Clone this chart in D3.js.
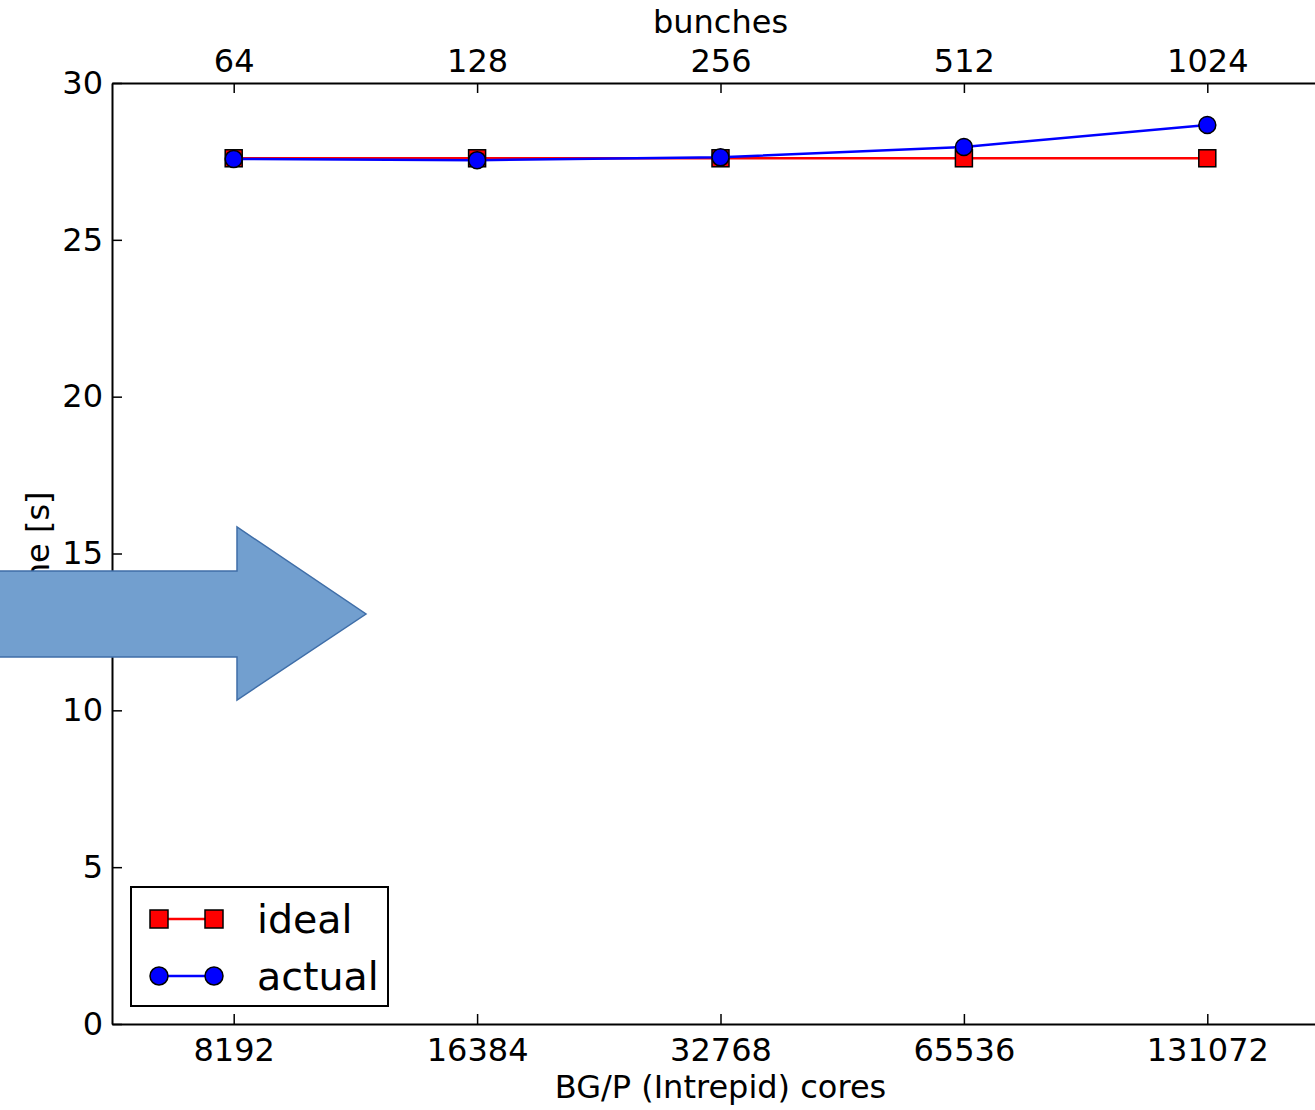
<!doctype html>
<html lang="en">
<head>
<meta charset="UTF-8">
<title>time vs cores</title>
<script src="https://d3js.org/d3.v7.min.js"></script>
<style>
  body { margin: 0; background: #fff; }
  svg { display: block; }
  text { font-family: "DejaVu Sans", sans-serif; fill: #000; }
</style>
</head>
<body>
<div id="chart"></div>
<script>
  // Data
  const cores = [8192, 16384, 32768, 65536, 131072]
  const bunches = [64, 128, 256, 512, 1024]
  const ideal = [27.6, 27.6, 27.6, 27.6, 27.6]
  const actual = [27.58, 27.54, 27.63, 27.96, 28.66]
  const yTicks = [0, 5, 10, 15, 20, 25, 30]

  const dimensions = {
    width: 1315,
    height: 1110,
    left: 112,
    top: 83,
    bottom: 1024,
    right: 1329
  }

  const svg = d3.select('#chart')
    .append('svg')
    .attr('width', dimensions.width)
    .attr('height', dimensions.height)

  // Scales (log2 spacing, half a step of padding on each side)
  const xScale = d3.scaleLog().base(2)
    .domain([Math.pow(2, 12.5), Math.pow(2, 17.5)])
    .range([dimensions.left, dimensions.right])

  const xTopScale = d3.scaleLog().base(2)
    .domain([Math.pow(2, 5.5), Math.pow(2, 10.5)])
    .range([dimensions.left, dimensions.right])

  const yScale = d3.scaleLinear()
    .domain([0, 30])
    .range([dimensions.bottom, dimensions.top])

  // Axes
  function styleAxis(g) {
    g.select('.domain').attr('stroke', '#000').attr('stroke-width', 2)
    g.selectAll('.tick line').attr('stroke', '#000').attr('stroke-width', 1.5)
    g.selectAll('.tick text')
      .style('font-size', '32px')
      .style('font-family', '"DejaVu Sans", sans-serif')
      .attr('fill', '#000')
  }

  const xAxis = d3.axisBottom(xScale)
    .tickValues(cores)
    .tickFormat(d => d)
    .tickSize(-10)
    .tickSizeOuter(0)
    .tickPadding(14)
  svg.append('g')
    .attr('transform', `translate(0, ${dimensions.bottom})`)
    .call(xAxis)
    .call(styleAxis)

  const xTopAxis = d3.axisTop(xTopScale)
    .tickValues(bunches)
    .tickFormat(d => d)
    .tickSize(-10)
    .tickSizeOuter(0)
    .tickPadding(11)
  svg.append('g')
    .attr('transform', `translate(0, ${dimensions.top})`)
    .call(xTopAxis)
    .call(styleAxis)

  const yAxis = d3.axisLeft(yScale)
    .tickValues(yTicks)
    .tickSize(-10)
    .tickSizeOuter(0)
    .tickPadding(9)
  svg.append('g')
    .attr('transform', `translate(${dimensions.left}, 0)`)
    .call(yAxis)
    .call(styleAxis)

  // Axis labels
  svg.append('text')
    .attr('x', (dimensions.left + dimensions.right) / 2)
    .attr('y', 1098)
    .attr('text-anchor', 'middle')
    .style('font-size', '32px')
    .text('BG/P (Intrepid) cores')

  svg.append('text')
    .attr('x', (dimensions.left + dimensions.right) / 2)
    .attr('y', 33)
    .attr('text-anchor', 'middle')
    .style('font-size', '32px')
    .text('bunches')

  svg.append('text')
    .attr('transform', `translate(49, ${(dimensions.top + dimensions.bottom) / 2}) rotate(-90)`)
    .attr('text-anchor', 'middle')
    .style('font-size', '32px')
    .text('time [s]')

  // Lines + markers
  const lineGenerator = (values) => d3.line()
    .x((d, i) => xScale(cores[i]))
    .y(d => yScale(d))(values)

  svg.append('path')
    .attr('d', lineGenerator(ideal))
    .attr('fill', 'none')
    .attr('stroke', '#ff0000')
    .attr('stroke-width', 2.5)

  svg.selectAll('.ideal')
    .data(ideal)
    .join('rect')
    .attr('class', 'ideal')
    .attr('x', (d, i) => xScale(cores[i]) - 8.5)
    .attr('y', d => yScale(d) - 8.5)
    .attr('width', 17)
    .attr('height', 17)
    .attr('fill', '#ff0000')
    .attr('stroke', '#000')
    .attr('stroke-width', 1.5)

  svg.append('path')
    .attr('d', lineGenerator(actual))
    .attr('fill', 'none')
    .attr('stroke', '#0000ff')
    .attr('stroke-width', 2.5)

  svg.selectAll('.actual')
    .data(actual)
    .join('circle')
    .attr('class', 'actual')
    .attr('cx', (d, i) => xScale(cores[i]))
    .attr('cy', d => yScale(d))
    .attr('r', 8.5)
    .attr('fill', '#0000ff')
    .attr('stroke', '#000')
    .attr('stroke-width', 1.5)

  // Legend
  const legend = svg.append('g')
  legend.append('rect')
    .attr('x', 131)
    .attr('y', 887)
    .attr('width', 257)
    .attr('height', 119)
    .attr('fill', '#fff')
    .attr('stroke', '#000')
    .attr('stroke-width', 2)

  const legendItems = [
    { name: 'ideal', color: '#ff0000', shape: 'square', y: 919 },
    { name: 'actual', color: '#0000ff', shape: 'circle', y: 976 }
  ]
  legendItems.forEach(item => {
    legend.append('line')
      .attr('x1', 159).attr('x2', 214)
      .attr('y1', item.y).attr('y2', item.y)
      .attr('stroke', item.color)
      .attr('stroke-width', 2.5)
    ;[159, 214].forEach(cx => {
      if (item.shape === 'square') {
        legend.append('rect')
          .attr('x', cx - 9).attr('y', item.y - 9)
          .attr('width', 18).attr('height', 18)
          .attr('fill', item.color)
          .attr('stroke', '#000').attr('stroke-width', 1.5)
      } else {
        legend.append('circle')
          .attr('cx', cx).attr('cy', item.y).attr('r', 9)
          .attr('fill', item.color)
          .attr('stroke', '#000').attr('stroke-width', 1.5)
      }
    })
    legend.append('text')
      .attr('x', 257)
      .attr('y', item.y + 14)
      .style('font-size', '39.5px')
      .text(item.name)
  })

  // Arrow overlay
  svg.append('path')
    .attr('d', 'M-5,571 L237,571 L237,527 L366,614 L237,700 L237,657 L-5,657 Z')
    .attr('fill', '#729fcf')
    .attr('stroke', '#3f6ea8')
    .attr('stroke-width', 1.5)
</script>
</body>
</html>
